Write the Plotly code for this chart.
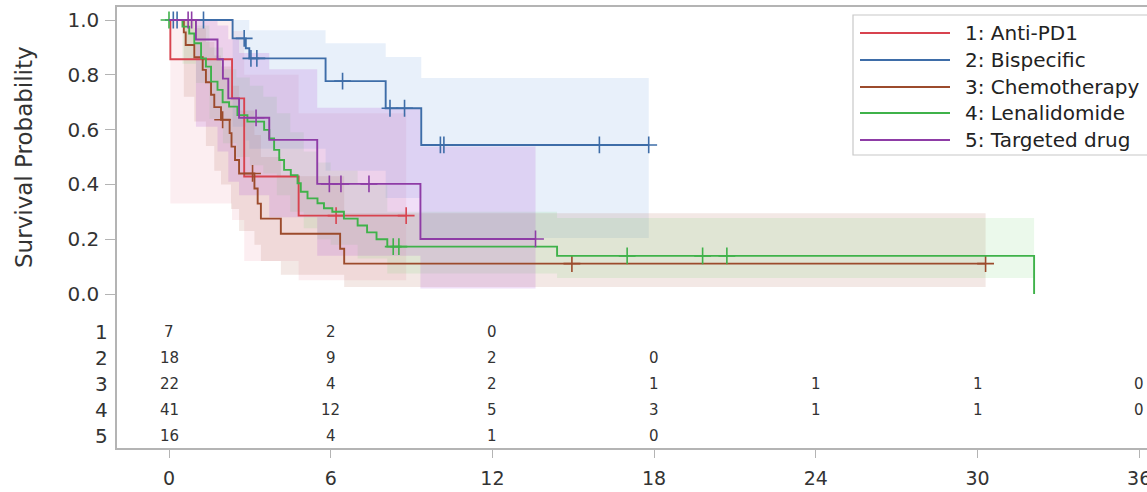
import plotly.graph_objects as go

# ---------------- data ----------------
group_names = ["1: Anti-PD1", "2: Bispecific", "3: Chemotherapy", "4: Lenalidomide", "5: Targeted drug"]
row_labels = ["1", "2", "3", "4", "5"]
x_ticks = [0, 6, 12, 18, 24, 30, 36]
y_ticks = [0.0, 0.2, 0.4, 0.6, 0.8, 1.0]

# Kaplan-Meier step curves (event times in months, survival after each time)
t1 = [0, 0.05, 2.34, 2.79, 4.81]
s1 = [1.0, 0.857, 0.714, 0.429, 0.286]
end1 = 8.8
cens1 = [6.2, 8.8]

t2 = [0, 2.36, 2.85, 2.98, 5.81, 8.04, 9.36]
s2 = [1.0, 0.933, 0.897, 0.86, 0.777, 0.678, 0.544]
end2 = 17.8
cens2 = [0.16, 0.3, 1.28, 2.79, 3.04, 3.26, 6.44, 8.2, 8.74, 10.07, 10.2, 15.97, 17.8]

t3 = [0, 0.55, 0.62, 0.94, 1.25, 1.37, 1.56, 1.68, 1.93, 2.25, 2.32, 2.45, 2.6,
      3.17, 3.29, 3.41, 4.15, 6.35, 6.5]
s3 = [1.0, 0.955, 0.909, 0.864, 0.818, 0.773, 0.727, 0.682, 0.636, 0.587, 0.538, 0.489, 0.44,
      0.385, 0.33, 0.275, 0.22, 0.165, 0.111]
end3 = 30.3
cens3 = [1.99, 3.1, 14.95, 30.3]

t4 = [0, 0.5, 0.75, 0.94, 1.19, 1.37, 1.56, 1.80, 1.99, 2.23, 2.54, 2.91, 3.53, 3.72, 3.90,
      4.09, 4.27, 4.52, 4.77, 4.89, 5.14, 5.51, 5.75, 6.06, 6.49, 7.0, 7.35, 7.7, 8.1, 14.4, 32.1]
s4 = [1.0, 0.976, 0.951, 0.915, 0.86, 0.83, 0.775, 0.745, 0.70, 0.684, 0.653, 0.629, 0.599, 0.568, 0.526,
      0.489, 0.453, 0.434, 0.404, 0.373, 0.349, 0.331, 0.313, 0.30, 0.275, 0.25, 0.225, 0.20, 0.173, 0.139, 0.0]
end4 = 32.1
cens4 = [0.0, 8.32, 8.53, 17.0, 19.8, 20.7]

t5 = [0, 1.0, 1.8, 2.0, 2.2, 2.6, 3.72, 5.5, 9.33]
s5 = [1.0, 0.929, 0.857, 0.786, 0.714, 0.643, 0.5625, 0.402, 0.201]
end5 = 13.6
cens5 = [0.71, 0.84, 3.23, 5.95, 6.38, 7.42, 13.6]

# confidence bands (step functions)
ci1_t = [0.05, 2.34, 2.79, 4.81]
ci1_lo = [0.33, 0.27, 0.12, 0.05]
ci1_hi = [1.0, 0.96, 0.80, 0.66]

ci2_t = [2.36, 2.85, 2.98, 5.81, 8.04, 9.36]
ci2_lo = [0.61, 0.56, 0.53, 0.45, 0.35, 0.204]
ci2_hi = [1.0, 1.0, 0.963, 0.915, 0.865, 0.788]

ci3_t = [0.55, 0.94, 1.37, 1.68, 1.93, 2.3, 2.6, 3.17, 3.41, 4.15, 6.5]
ci3_lo = [0.72, 0.63, 0.54, 0.45, 0.40, 0.31, 0.23, 0.18, 0.12, 0.07, 0.026]
ci3_hi = [1.0, 0.97, 0.92, 0.87, 0.83, 0.76, 0.67, 0.58, 0.50, 0.43, 0.295]

ci4_t = [0.5, 1.0, 1.5, 2.0, 2.5, 3.0, 3.5, 4.0, 4.5, 5.0, 5.5, 6.0, 7.0, 8.1, 14.4]
ci4_lo = [0.84, 0.77, 0.64, 0.55, 0.50, 0.47, 0.44, 0.36, 0.30, 0.24, 0.20, 0.18, 0.13, 0.075, 0.058]
ci4_hi = [1.0, 0.98, 0.90, 0.82, 0.79, 0.76, 0.72, 0.66, 0.59, 0.52, 0.48, 0.45, 0.40, 0.30, 0.277]

ci5_t = [1.0, 1.8, 2.2, 2.6, 3.72, 5.5, 9.33]
ci5_lo = [0.61, 0.52, 0.41, 0.36, 0.28, 0.14, 0.02]
ci5_hi = [1.0, 0.98, 0.93, 0.88, 0.82, 0.68, 0.538]

# number at risk
risk1 = [7, 2, 0]
risk2 = [18, 9, 2, 0]
risk3 = [22, 4, 2, 1, 1, 1, 0]
risk4 = [41, 12, 5, 3, 1, 1, 0]
risk5 = [16, 4, 1, 0]

# ---------------- styling ----------------
line_colors = ["#d8434f", "#3e6da8", "#9c4b2c", "#3fb24a", "#8e3ca6"]
band_colors = ["rgba(235,120,150,0.13)", "rgba(110,160,225,0.16)", "rgba(170,90,70,0.14)",
               "rgba(110,210,110,0.14)", "rgba(170,80,210,0.18)"]
FONT = "DejaVu Sans"
TXT = "#333333"
AXC = "#b4b4b4"

W, H = 1147, 492
L, R, T, B = 117, 0, 7, 44
PW, PH = W - L - R, H - T - B


def pxx(px):
    return (px - L) / PW


def pxy(py):
    return (H - B - py) / PH


def ypx_to_data(py):
    return (294 - py) / 274.0


def step_value(ts, ss, c):
    v = ss[0]
    for tt, sv in zip(ts, ss):
        if tt <= c:
            v = sv
    return v


def band_poly(ts, lo, hi, end):
    xs, ys = [], []
    n = len(ts)
    for i in range(n):
        nx = ts[i + 1] if i + 1 < n else end
        xs += [ts[i], nx]
        ys += [hi[i], hi[i]]
    for i in reversed(range(n)):
        nx = ts[i + 1] if i + 1 < n else end
        xs += [nx, ts[i]]
        ys += [lo[i], lo[i]]
    return xs, ys


curves = [(t1, s1, end1, cens1), (t2, s2, end2, cens2), (t3, s3, end3, cens3),
          (t4, s4, end4, cens4), (t5, s5, end5, cens5)]
bands = [(ci1_t, ci1_lo, ci1_hi, end1), (ci2_t, ci2_lo, ci2_hi, end2), (ci3_t, ci3_lo, ci3_hi, end3),
         (ci4_t, ci4_lo, ci4_hi, end4), (ci5_t, ci5_lo, ci5_hi, end5)]
risks = [risk1, risk2, risk3, risk4, risk5]

fig = go.Figure()

for (bt, blo, bhi, bend), fc in zip(bands, band_colors):
    bx, by = band_poly(bt, blo, bhi, bend)
    fig.add_trace(go.Scatter(x=bx, y=by, mode="lines", fill="toself", fillcolor=fc,
                             line=dict(width=0), hoverinfo="skip", showlegend=False))

for (ts, ss, end, cens), col, name in zip(curves, line_colors, group_names):
    fig.add_trace(go.Scatter(x=list(ts) + [end], y=list(ss) + [ss[-1]], mode="lines",
                             line=dict(color=col, width=1.9, shape="hv"), name=name, showlegend=False))
    fig.add_trace(go.Scatter(x=cens, y=[step_value(ts, ss, c) for c in cens], mode="markers",
                             marker=dict(symbol="cross-thin", size=12, line=dict(color=col, width=1.6)),
                             showlegend=False, hoverinfo="skip"))

# at-risk table
row_py = [331.5, 358, 384, 410, 436]
annotations = []
for lab, rk, rp in zip(row_labels, risks, row_py):
    yv = ypx_to_data(rp)
    annotations.append(dict(x=pxx(110), y=yv, xref="paper", yref="y", text=lab, showarrow=False,
                            xanchor="right", yanchor="middle", font=dict(family=FONT, size=20, color=TXT)))
    for xv, n in zip(x_ticks, rk):
        annotations.append(dict(x=xv, y=yv, xref="x", yref="y", text=str(n), showarrow=False,
                                xanchor="center", yanchor="middle", font=dict(family=FONT, size=15, color=TXT)))

# y title
annotations.append(dict(x=pxx(24), y=0.5, xref="paper", yref="y", text="Survival Probability",
                        textangle=-90, showarrow=False, xanchor="center", yanchor="middle",
                        font=dict(family=FONT, size=23, color=TXT)))

# legend (drawn manually)
shapes = [dict(type="rect", xref="paper", yref="paper", x0=pxx(853), x1=pxx(1170), y0=pxy(155), y1=pxy(15),
               line=dict(color="#c8c8c8", width=1.2), fillcolor="white", layer="above")]
leg_py = [33, 60, 87, 113, 140]
for name, col, lp in zip(group_names, line_colors, leg_py):
    shapes.append(dict(type="line", xref="paper", yref="paper", x0=pxx(860), x1=pxx(950),
                       y0=pxy(lp), y1=pxy(lp), line=dict(color=col, width=2), layer="above"))
    annotations.append(dict(x=pxx(963), y=pxy(lp), xref="paper", yref="paper", text=name, showarrow=False,
                            xanchor="left", yanchor="middle", font=dict(family=FONT, size=20, color="#222222")))

fig.update_layout(
    width=W, height=H, margin=dict(l=L, r=R, t=T, b=B, autoexpand=False),
    paper_bgcolor="white", plot_bgcolor="white", showlegend=False,
    font=dict(family=FONT, color=TXT),
    shapes=shapes, annotations=annotations,
    xaxis=dict(range=[(L - 169) / 26.95, (W - 169) / 26.95], tickvals=x_ticks,
               ticktext=[str(v) for v in x_ticks], showgrid=False, zeroline=False,
               showline=True, linecolor=AXC, linewidth=1.5, mirror=True, automargin=False,
               ticks="outside", ticklen=8, tickcolor=AXC, tickwidth=1.2, ticklabelstandoff=4,
               ticklabeloverflow="allow",
               tickfont=dict(family=FONT, size=19, color=TXT)),
    yaxis=dict(range=[ypx_to_data(H - B), ypx_to_data(T)], tickvals=y_ticks,
               ticktext=["%.1f" % v for v in y_ticks], showgrid=False, zeroline=False,
               showline=True, linecolor=AXC, linewidth=1.5, mirror=False, automargin=False,
               ticks="outside", ticklen=10, tickcolor=AXC, tickwidth=1.2, ticklabelstandoff=2,
               tickfont=dict(family=FONT, size=20, color=TXT)),
)

fig.write_html("out.html")
